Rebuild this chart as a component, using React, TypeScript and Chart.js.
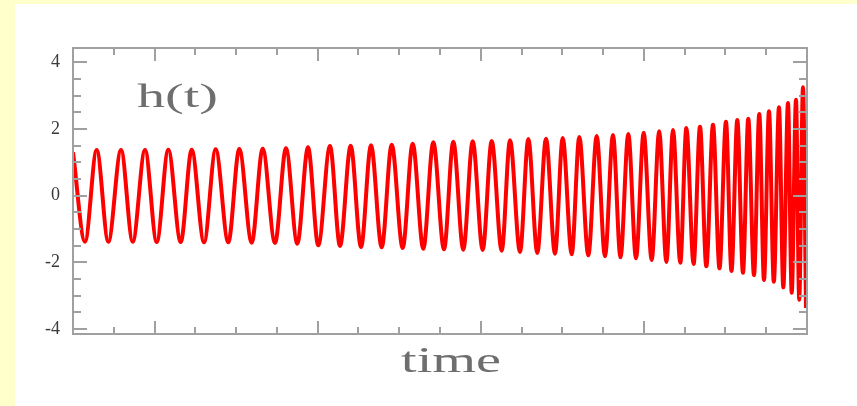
import React, { useEffect, useRef } from "react";
import { Chart, registerables } from "chart.js";

Chart.register(...registerables);

// Times of the successive peaks and troughs of h(t) (x axis 0..18)
const extremaTime = [
  0, 0.294, 0.581, 0.866, 1.177, 1.464, 1.766, 2.053, 2.337, 2.641, 2.911,
  3.213, 3.499, 3.808, 4.078, 4.382, 4.652, 4.954, 5.223, 5.501, 5.763,
  6.015, 6.302, 6.548, 6.81, 7.063, 7.308, 7.57, 7.816, 8.085, 8.33,
  8.59, 8.836, 9.098, 9.326, 9.571, 9.802, 10.047, 10.268, 10.513, 10.717,
  10.962, 11.166, 11.386, 11.6, 11.82, 12.009, 12.23, 12.416, 12.637, 12.843,
  13.046, 13.242, 13.426, 13.618, 13.807, 13.995, 14.191, 14.375, 14.552, 14.714,
  14.893, 15.042, 15.219, 15.376, 15.531, 15.695, 15.854, 16.013, 16.148, 16.291,
  16.43, 16.56, 16.7, 16.83, 16.945, 17.068, 17.186, 17.313, 17.419, 17.534,
  17.625, 17.73, 17.809, 17.902, 17.975,
];

// Values of h(t) at those peaks and troughs
const extremaH = [
  1.3, -1.38, 1.37, -1.38, 1.37, -1.38, 1.37, -1.39, 1.38, -1.39, 1.38,
  -1.4, 1.39, -1.4, 1.4, -1.41, 1.41, -1.42, 1.42, -1.44, 1.45,
  -1.49, 1.49, -1.51, 1.5, -1.54, 1.51, -1.55, 1.53, -1.57, 1.56,
  -1.59, 1.6, -1.61, 1.62, -1.62, 1.63, -1.63, 1.64, -1.65, 1.66,
  -1.69, 1.7, -1.72, 1.71, -1.74, 1.73, -1.76, 1.76, -1.79, 1.79,
  -1.82, 1.82, -1.85, 1.85, -1.88, 1.89, -1.93, 1.93, -1.99, 1.97,
  -2.01, 2.03, -2.05, 2.07, -2.12, 2.13, -2.18, 2.22, -2.26, 2.27,
  -2.31, 2.31, -2.38, 2.45, -2.53, 2.53, -2.58, 2.65, -2.75, 2.78,
  -2.91, 2.88, -3.12, 3.25, -3.37,
];

const yTickValues = [-4, -2, 0, 2, 4];
const xMajorTicks = [2, 6, 10, 14, 18];
const xMinorStep = 1;
const yMinorStep = 0.5;
const X_MIN = 0;
const X_MAX = 18;
const Y_MIN = -4.15;
const Y_MAX = 4.43;
const yLabel = "h(t)";
const xLabel = "time";

function drawStretched(
  ctx: CanvasRenderingContext2D,
  text: string,
  x: number,
  baseline: number,
  width: number,
  font: string
) {
  ctx.save();
  ctx.font = font;
  ctx.textAlign = "left";
  ctx.textBaseline = "alphabetic";
  const w = ctx.measureText(text).width;
  ctx.translate(x, baseline);
  ctx.scale(width / w, 1);
  ctx.fillText(text, 0, 0);
  ctx.restore();
}

export default function App() {
  const ref = useRef<HTMLCanvasElement>(null);

  useEffect(() => {
    if (!ref.current) return;
    const data = extremaTime.map((t, i) => ({ x: t, y: extremaH[i] }));

    const framePlugin = {
      id: "frameTicks",
      afterDatasetsDraw(chart: any) {
        const { ctx, chartArea: a, scales } = chart;
        const xs = scales.x;
        const ys = scales.y;
        ctx.save();
        ctx.strokeStyle = "#a0a0a0";
        ctx.lineWidth = 2;
        ctx.strokeRect(a.left, a.top, a.right - a.left, a.bottom - a.top);
        ctx.beginPath();
        for (let v = X_MIN + xMinorStep; v < X_MAX; v += xMinorStep) {
          const px = Math.round(xs.getPixelForValue(v));
          const len = xMajorTicks.includes(v) ? 13 : 7;
          ctx.moveTo(px, a.bottom);
          ctx.lineTo(px, a.bottom - len);
          ctx.moveTo(px, a.top);
          ctx.lineTo(px, a.top + len);
        }
        for (let v = -4; v <= 4.001; v += yMinorStep) {
          const py = Math.round(ys.getPixelForValue(v));
          const len = yTickValues.includes(v) ? 14 : 8;
          ctx.moveTo(a.left, py);
          ctx.lineTo(a.left + len, py);
          ctx.moveTo(a.right, py);
          ctx.lineTo(a.right - len, py);
        }
        ctx.stroke();

        ctx.fillStyle = "#6e6e6e";
        drawStretched(ctx, yLabel, a.left + 64, a.top + 59, 81, '34px "Liberation Serif"');
        drawStretched(ctx, xLabel, a.left + 328, a.bottom + 38, 100, '35px "Liberation Serif"');
        ctx.restore();
      },
    };

    const chart = new Chart(ref.current, {
      type: "line",
      data: {
        datasets: [
          {
            data,
            borderColor: "#ff0000",
            borderWidth: 4,
            pointRadius: 0,
            fill: false,
            cubicInterpolationMode: "monotone",
          },
        ],
      },
      options: {
        responsive: false,
        animation: false,
        devicePixelRatio: 1,
        layout: { padding: { left: 0, top: 48, right: 50, bottom: 72 } },
        plugins: {
          legend: { display: false },
          tooltip: { enabled: false },
        },
        scales: {
          x: { type: "linear", min: X_MIN, max: X_MAX, display: false },
          y: {
            type: "linear",
            min: Y_MIN,
            max: Y_MAX,
            afterFit: (s: any) => {
              s.width = 73;
            },
            afterBuildTicks: (s: any) => {
              s.ticks = yTickValues.map((v) => ({ value: v }));
            },
            grid: { display: false, drawTicks: false },
            border: { display: false },
            ticks: {
              padding: 13,
              color: "#3a3a3a",
              font: { family: '"Liberation Serif"', size: 18 },
            },
          },
        },
      },
      plugins: [framePlugin],
    } as any);

    return () => chart.destroy();
  }, []);

  return (
    <div
      style={{
        position: "fixed",
        left: 0,
        top: 0,
        width: 857,
        height: 406,
        background: "#FFFFCC",
        overflow: "hidden",
      }}
    >
      <div
        style={{
          position: "absolute",
          left: 15,
          top: 4,
          right: 0,
          bottom: 0,
          background: "#ffffff",
        }}
      />
      <canvas
        ref={ref}
        width={857}
        height={406}
        style={{ position: "absolute", left: 0, top: 0 }}
      />
    </div>
  );
}
